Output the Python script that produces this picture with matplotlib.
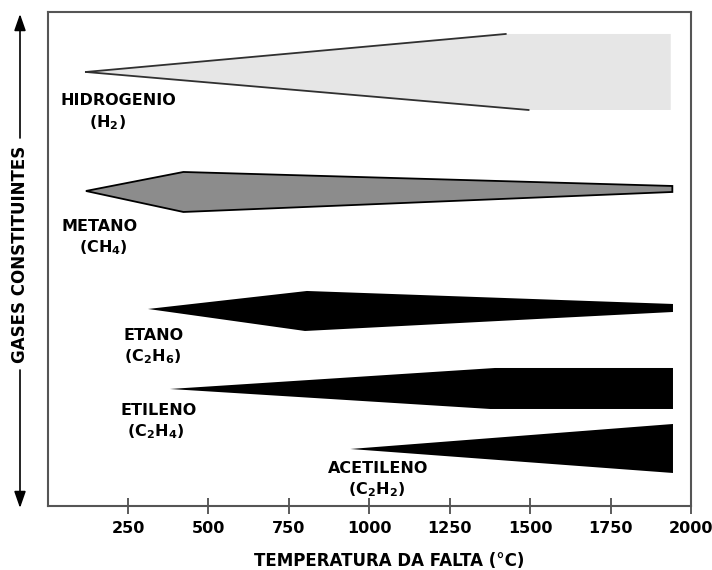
"""Faixas de temperatura de formacao dos gases de falta."""

import matplotlib
matplotlib.use('Agg')
import matplotlib.pyplot as plt

plt.rcParams['font.family'] = ['DejaVu Sans']
plt.rcParams['font.weight'] = 'bold'
plt.rcParams['mathtext.fontset'] = 'dejavusans'
plt.rcParams['mathtext.default'] = 'bf'

# perfis (temperatura em degC, limite superior / inferior em unidades arbitrarias)
h2_t_sup = [119, 1424, 1937]
h2_sup = [434, 472, 472]
h2_t_inf = [119, 1495, 1937]
h2_inf = [434, 396, 396]

ch4_t_sup = [119, 422, 1942]
ch4_sup = [315, 334, 320]
ch4_t_inf = [119, 422, 1942]
ch4_inf = [315, 294, 314]

c2h6_t_sup = [312, 806, 1944]
c2h6_sup = [197, 215, 202]
c2h6_t_inf = [312, 800, 1944]
c2h6_inf = [197, 175, 194]

c2h4_t_sup = [380, 1391, 1944]
c2h4_sup = [117, 138, 138]
c2h4_t_inf = [380, 1376, 1944]
c2h4_inf = [117, 97, 97]

c2h2_t_sup = [941, 1944]
c2h2_sup = [57, 82]
c2h2_t_inf = [941, 1944]
c2h2_inf = [57, 33]

ticks_x = [250, 500, 750, 1000, 1250, 1500, 1750, 2000]

# rotulos: (nome, formula, x_nome, y_nome, x_formula, y_formula)
rotulos = [
    ('HIDROGENIO', r'(H$_2$)', 220, 405, 186, 383),
    ('METANO', r'(CH$_4$)', 160, 279, 172, 258),
    ('ETANO', r'(C$_2$H$_6$)', 329, 170, 325, 149),
    ('ETILENO', r'(C$_2$H$_4$)', 345, 95, 334, 74),
    ('ACETILENO', r'(C$_2$H$_2$)', 1028, 37, 1024, 16),
]


def poligono(t_sup, sup, t_inf, inf):
    xs = list(t_sup) + list(t_inf[::-1])
    ys = list(sup) + list(inf[::-1])
    return xs, ys


fig = plt.figure(figsize=(7.12, 5.70), dpi=100)
ax = fig.add_axes([0.0669, 0.1123, 0.9036, 0.8667])
ax.set_xlim(0, 2000)
ax.set_ylim(0, 494)

# hidrogenio: preenchimento claro, apenas as linhas inclinadas
xs, ys = poligono(h2_t_sup, h2_sup, h2_t_inf, h2_inf)
ax.fill(xs, ys, color='#e6e6e6', lw=0)
ax.plot(h2_t_sup[:2], h2_sup[:2], color='#303030', lw=1.3)
ax.plot(h2_t_inf[:2], h2_inf[:2], color='#303030', lw=1.3)

# metano
xs, ys = poligono(ch4_t_sup, ch4_sup, ch4_t_inf, ch4_inf)
ax.fill(xs, ys, facecolor='#8c8c8c', edgecolor='black', lw=1.3, joinstyle='miter')

# etano, etileno, acetileno
for t_sup, sup, t_inf, inf in [(c2h6_t_sup, c2h6_sup, c2h6_t_inf, c2h6_inf),
                               (c2h4_t_sup, c2h4_sup, c2h4_t_inf, c2h4_inf),
                               (c2h2_t_sup, c2h2_sup, c2h2_t_inf, c2h2_inf)]:
    xs, ys = poligono(t_sup, sup, t_inf, inf)
    ax.fill(xs, ys, color='black', lw=0)

for nome, formula, xn, yn, xf, yf in rotulos:
    ax.text(xn, yn, nome, ha='center', va='center', fontsize=11.5, fontweight='bold')
    ax.text(xf, yf, formula, ha='center', va='center', fontsize=11.5, fontweight='bold')

ax.set_xticks(ticks_x)
ax.set_xticklabels([str(t) for t in ticks_x], fontsize=11.5, fontweight='bold')
ax.set_yticks([])
ax.tick_params(axis='x', direction='inout', length=12, width=1.2, color='#404040', pad=5)
for lado in ['left', 'right', 'top', 'bottom']:
    ax.spines[lado].set_color('#555555')
    ax.spines[lado].set_linewidth(1.5)

fig.text(389 / 712, 1 - 561 / 570, 'TEMPERATURA DA FALTA (°C)', ha='center', va='center',
         fontsize=12, fontweight='bold')

# eixo vertical com setas
fig.text(20 / 712, 1 - 254 / 570, 'GASES CONSTITUINTES', rotation=90, ha='center',
         va='center', fontsize=12, fontweight='bold')
fig.add_artist(matplotlib.patches.FancyArrowPatch(
    (20 / 712, 1 - 138 / 570), (20 / 712, 1 - 14 / 570), transform=fig.transFigure,
    arrowstyle='-|>,head_length=10,head_width=3.5', color='black', lw=1.2, shrinkA=0, shrinkB=0))
fig.add_artist(matplotlib.patches.FancyArrowPatch(
    (20 / 712, 1 - 370 / 570), (20 / 712, 1 - 508 / 570), transform=fig.transFigure,
    arrowstyle='-|>,head_length=10,head_width=3.5', color='black', lw=1.2, shrinkA=0, shrinkB=0))

fig.savefig('out.png', dpi=100)
